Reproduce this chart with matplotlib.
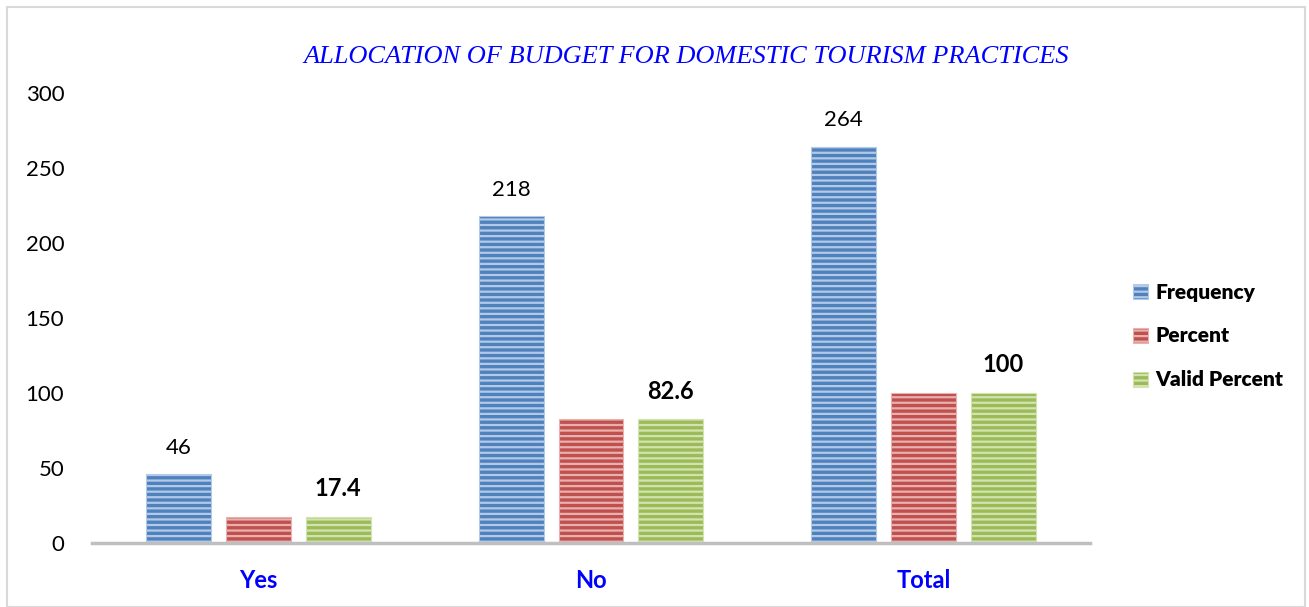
import matplotlib
matplotlib.use("Agg")
import matplotlib.pyplot as plt
from matplotlib.patches import Rectangle
import numpy as np

categories = ["Yes", "No", "Total"]
frequency = [46, 218, 264]
percent = [17.4, 82.6, 100]
valid_percent = [17.4, 82.6, 100]
series_names = ["Frequency", "Percent", "Valid Percent"]
yticks = [0, 50, 100, 150, 200, 250, 300]
title = "ALLOCATION OF BUDGET FOR DOMESTIC TOURISM PRACTICES"

face = ["#4F81BD", "#C0504D", "#9BBB59"]
stripe = ["#B3C9E8", "#E8B0AE", "#D3E3B0"]

plt.rcParams['font.family'] = ['Lato', 'DejaVu Sans']
plt.rcParams['hatch.linewidth'] = 1.6

fig = plt.figure(figsize=(13.09, 6.07), dpi=100)
ax = fig.add_axes([92/1309, 1-543/607, 998/1309, 450/607])

x = np.arange(len(categories))
w = 0.195
off = 0.24
series = [frequency, percent, valid_percent]
for i, (vals, fc, sc, name) in enumerate(zip(series, face, stripe, series_names)):
    ax.bar(x + (i-1)*off, vals, width=w, color=fc, edgecolor=sc, hatch='---',
           linewidth=0.8, label=name, zorder=2)

for xi, v in zip(x, frequency):
    ax.text(xi - off, v + 11, f"{v:g}", ha='center', va='bottom', fontsize=16, color='black')
for xi, v in zip(x, valid_percent):
    ax.text(xi + off, v + 11, f"{v:g}", ha='center', va='bottom', fontsize=17,
            fontweight='bold', color='black')

ax.set_xlim(-0.5, 2.5)
ax.set_ylim(0, 300)
ax.set_yticks(yticks)
ax.set_yticklabels([str(t) for t in yticks], fontsize=16)
ax.set_xticks(x)
ax.set_xticklabels(categories, fontsize=17, fontweight='bold', color='#0000FF')
ax.tick_params(axis='y', length=0, pad=20)
ax.tick_params(axis='x', length=0, pad=19)
for s in ['top', 'right', 'left']:
    ax.spines[s].set_visible(False)
ax.spines['bottom'].set_color('#BFBFBF')
ax.spines['bottom'].set_linewidth(2.5)
ax.spines['bottom'].set_zorder(3)

leg = fig.legend(loc='center left', bbox_to_anchor=(1114/1309, 1-336/607), frameon=False,
                 prop={'family': 'Lato', 'weight': 'heavy', 'size': 15},
                 handlelength=0.75, handleheight=0.75, handletextpad=0.35,
                 labelspacing=1.2)

fig.text(686/1309, 1-57/607, title, ha='center', va='center', fontsize=19,
         fontstyle='italic', color='#0000FF', family=['Liberation Serif', 'DejaVu Serif'])

fig.patches.append(Rectangle((7/1309, 0), 1298/1309, 1-7/607, transform=fig.transFigure,
                             fill=False, edgecolor='#D9D9D9', linewidth=1.5))

fig.savefig("out.png", dpi=100)
